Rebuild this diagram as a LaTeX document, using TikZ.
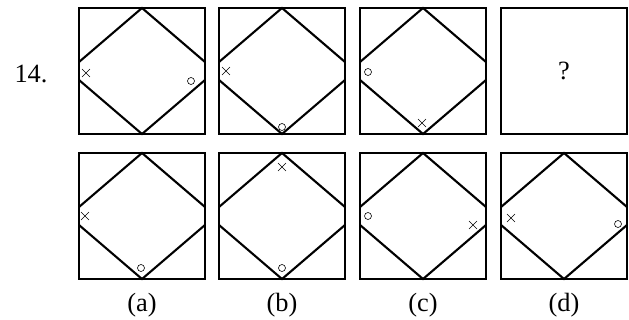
\documentclass[tikz,border=0pt]{standalone}
\usepackage{fontspec}
\setmainfont{Liberation Serif}
\usetikzlibrary{shapes.misc}

\tikzset{
    panel/.style={draw, line width=2.5pt, minimum size=37.8mm, inner sep=0pt, outer sep=0pt},
    rhomb/.style={line width=1.8pt, line join=miter},
    xmark/.style={cross out, draw, line width=0.5pt, minimum size=2.2mm, inner sep=0pt},
    omark/.style={circle, draw, line width=0.5pt, minimum size=2.1mm, inner sep=0pt},
    lbl/.style={font=\fontsize{22.5}{26}\selectfont, inner sep=0pt}
}

\begin{document}
\begin{tikzpicture}[x=0.3mm, y=-0.3mm]
    \useasboundingbox (0,0) rectangle (629,320);

    % Hàng trên: dãy hình
    \node[panel] (q1) at (142,71) {};
    \node[panel] (q2) at (282,71) {};
    \node[panel] (q3) at (423,71) {};
    \node[panel] (q4) at (564,71) {};

    % Hàng dưới: các lựa chọn
    \node[panel] (oa) at (142,216) {};
    \node[panel] (ob) at (282,216) {};
    \node[panel] (oc) at (423,216) {};
    \node[panel] (od) at (564,216) {};

    % Hình thoi bị cắt trong mỗi ô (trừ ô dấu hỏi)
    \foreach \p in {q1,q2,q3,oa,ob,oc,od} {
        \draw[rhomb] ([shift={(0,-9)}]\p.west) -- (\p.north) -- ([shift={(0,-9)}]\p.east);
        \draw[rhomb] ([shift={(0,9)}]\p.west) -- (\p.south) -- ([shift={(0,9)}]\p.east);
    }

    % Dấu x và o
    \node[xmark] (q1x) at (86,73) {};
    \node[omark] (q1o) at (191,81) {};
    \node[xmark] (q2x) at (226,71) {};
    \node[omark] (q2o) at (282,127) {};
    \node[omark] (q3o) at (368,72) {};
    \node[xmark] (q3x) at (422,123) {};

    \node[xmark] (oax) at (85,216) {};
    \node[omark] (oao) at (141,268) {};
    \node[xmark] (obx) at (282,167) {};
    \node[omark] (obo) at (282,268) {};
    \node[omark] (oco) at (368,216) {};
    \node[xmark] (ocx) at (473,225) {};
    \node[xmark] (odx) at (511,218) {};
    \node[omark] (odo) at (618,224) {};

    % Chữ
    \node[lbl] (num) at (31,74) {14.};
    \node[lbl] (ask) at (q4) {?};
    \node[lbl] (la) at (142,305) {(a)};
    \node[lbl] (lb) at (282,305) {(b)};
    \node[lbl] (lc) at (423,305) {(c)};
    \node[lbl] (ld) at (564,305) {(d)};
\end{tikzpicture}
\end{document}
